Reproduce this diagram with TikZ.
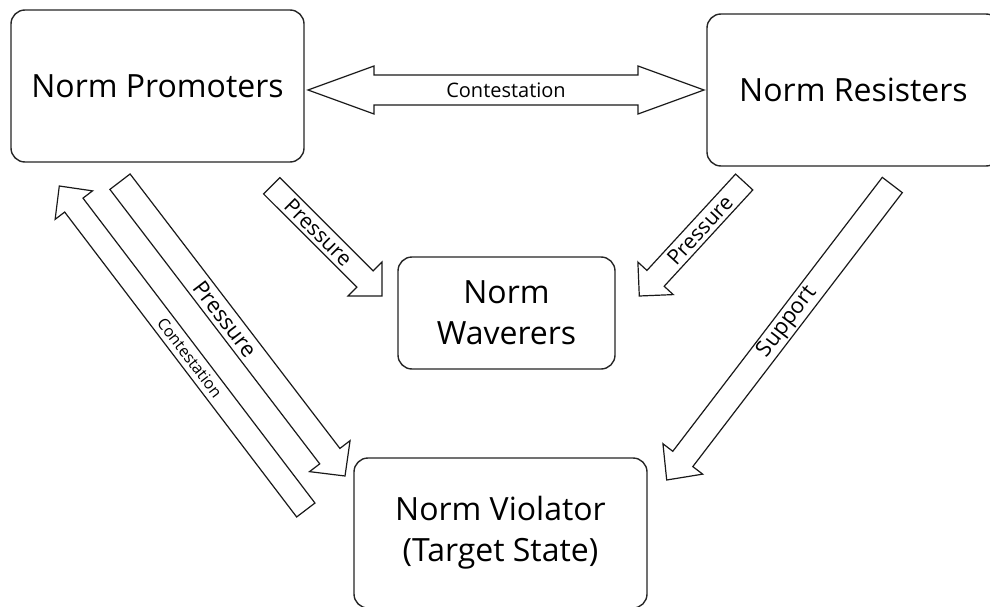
\documentclass[tikz,border=0pt]{standalone}
\usepackage{fontspec}
\setmainfont{Open Sans}
\usetikzlibrary{calc}
\tikzset{
  box/.style={draw=black!85, line width=1.4pt, rounded corners=14pt, fill=white, inner sep=0pt, align=center, font=\fontsize{32}{41}\selectfont},
  barrow/.style={draw=black!90, line width=1.2pt, fill=white, line join=miter},
  blabel/.style={sloped, midway, inner sep=0pt},
}
% #1 tail, #2 tip, #3 shaft half width, #4 head half width, #5 head length, #6 font size, #7 label
\newcommand\blockarrow[7]{%
  \coordinate (ba-h) at ($(#2)!#5!(#1)$);
  \draw[barrow] ($(#1)!#3!90:(#2)$) -- ($(ba-h)!#3!90:(#2)$) -- ($(ba-h)!#4!90:(#2)$) -- (#2)
     -- ($(ba-h)!#4!-90:(#2)$) -- ($(ba-h)!#3!-90:(#2)$) -- ($(#1)!#3!-90:(#2)$) -- cycle;
  \path (#1) -- (ba-h) node[blabel, font=\fontsize{#6}{#6}\selectfont] (#1-lab) {#7};
}
% #1 tip A, #2 tip B, #3 shaft half, #4 head half, #5 head length, #6 font size, #7 label
\newcommand\dblarrow[7]{%
  \coordinate (da-h1) at ($(#1)!#5!(#2)$);
  \coordinate (da-h2) at ($(#2)!#5!(#1)$);
  \draw[barrow] (#1) -- ($(da-h1)!#4!90:(#2)$) -- ($(da-h1)!#3!90:(#2)$) -- ($(da-h2)!#3!90:(#2)$)
     -- ($(da-h2)!#4!90:(#2)$) -- (#2) -- ($(da-h2)!#4!-90:(#2)$) -- ($(da-h2)!#3!-90:(#2)$)
     -- ($(da-h1)!#3!-90:(#2)$) -- ($(da-h1)!#4!-90:(#2)$) -- cycle;
  \path (#1) -- (#2) node[blabel, font=\fontsize{#6}{#6}\selectfont] (#1-lab) {#7};
}
\begin{document}
\begin{tikzpicture}[x=1pt, y=-1pt]
\useasboundingbox (0,0) rectangle (990,607);
\clip (0,0) rectangle (990,607);
\fill[white] (0,0) rectangle (990,607);

% boxes
\node[box, minimum width=293pt, minimum height=152pt] (prom) at (157.5,86) {Norm Promoters};
\node[box, minimum width=293pt, minimum height=152pt] (resi) at (853.5,90) {Norm Resisters};
\node[box, minimum width=217pt, minimum height=112pt] (wave) at (506.5,313) {Norm\\Waverers};
\node[box, minimum width=293pt, minimum height=150pt] (viol) at (500.5,533) {Norm Violator\\(Target State)};

% arrow end points
\coordinate (c1) at (308,90);
\coordinate (c2) at (704,90);
\coordinate (p1t) at (271.7,185.8);
\coordinate (p1h) at (382,296);
\coordinate (p2t) at (744.2,182);
\coordinate (p2h) at (639.3,296);
\coordinate (p3t) at (120,181.7);
\coordinate (p3h) at (345,476);
\coordinate (c3t) at (305.8,510);
\coordinate (c3h) at (59.3,186);
\coordinate (s1t) at (892.3,185);
\coordinate (s1h) at (666.7,480);

\dblarrow{c1}{c2}{15pt}{24pt}{66pt}{20}{Contestation}
\blockarrow{p1t}{p1h}{11.5pt}{24pt}{24pt}{21}{Pressure}
\blockarrow{p2t}{p2h}{11.7pt}{24pt}{24pt}{21}{Pressure}
\blockarrow{p3t}{p3h}{12.7pt}{25.5pt}{25pt}{22}{Pressure}
\blockarrow{c3t}{c3h}{11.5pt}{23.5pt}{24pt}{16}{Contestation}
\blockarrow{s1t}{s1h}{12.6pt}{25pt}{26.5pt}{22}{Support}
\end{tikzpicture}
\end{document}
